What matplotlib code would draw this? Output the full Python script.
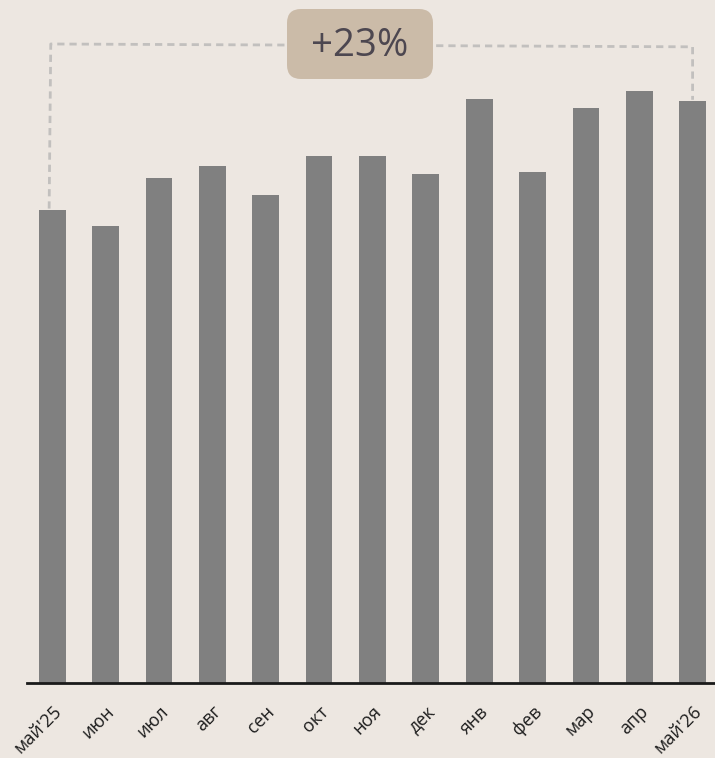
import matplotlib.pyplot as plt
import matplotlib.transforms as mtransforms
from matplotlib import font_manager as fm
from matplotlib.patches import FancyBboxPatch

# Monthly values (relative index)
months = ["май'25", "июн", "июл", "авг", "сен", "окт", "ноя",
          "дек", "янв", "фев", "мар", "апр", "май'26"]
values = [100.0, 96.6, 106.8, 109.3, 103.2, 111.4, 111.4,
          107.6, 123.5, 108.0, 121.6, 125.2, 123.0]
change_label = "+23%"

bg = "#ede7e1"

# static Open Sans (the variable file renders condensed)
static = [e.fname for e in fm.fontManager.ttflist if e.fname.endswith("OpenSans-Regular.ttf")]
if static:
    font_path = static[0]
else:
    font_path = fm.findfont(fm.FontProperties(family="DejaVu Sans"))

fig = plt.figure(figsize=(7.15, 7.58), dpi=100, facecolor=bg)
ax = fig.add_axes([27 / 715, 75 / 758, 1 - 27 / 715, 1 - 75 / 758])
ax.set_facecolor(bg)

x = list(range(len(values)))
ax.bar(x, values, width=0.5, color="#808080", zorder=2)

ax.set_xlim(-0.475, 12.42)
ax.set_ylim(0, 144.4)

# Bracket from first to last month
top_left, top_right = 135.1, 134.5
ax.plot([x[0] - 0.06, x[0] - 0.03, x[-1], x[-1]],
        [values[0] + 0.3, top_left, top_right, values[-1] + 0.3],
        color="#c2c0be", lw=2, dashes=(2.6, 1.8), zorder=1, clip_on=False)

# Label box in pixel coordinates
ident = mtransforms.IdentityTransform()
box = FancyBboxPatch((287, 679), 146, 70, boxstyle="round,pad=0,rounding_size=14",
                     transform=ident, facecolor="#cbbba8", edgecolor="none", zorder=5)
fig.patches.append(box)
fig.text(360, 712, change_label, transform=ident, ha="center", va="center",
         fontproperties=fm.FontProperties(fname=font_path, size=27.5),
         color="#4d4750", zorder=6)

# Axes styling
for side in ["top", "right", "left"]:
    ax.spines[side].set_visible(False)
ax.spines["bottom"].set_color("#1a1a1a")
ax.spines["bottom"].set_linewidth(2)
ax.set_yticks([])
ax.set_xticks(x)
ax.set_xticklabels(months, rotation=45, ha="right", va="top",
                   rotation_mode="anchor", color="#1e1e1e",
                   fontproperties=fm.FontProperties(fname=font_path, size=13))
for lbl in ax.get_xticklabels():
    lbl.set_transform(lbl.get_transform() + mtransforms.ScaledTranslation(0.02, 0, fig.dpi_scale_trans))
ax.tick_params(axis="x", length=0, pad=14)

plt.savefig("out.png", dpi=100, facecolor=bg)
